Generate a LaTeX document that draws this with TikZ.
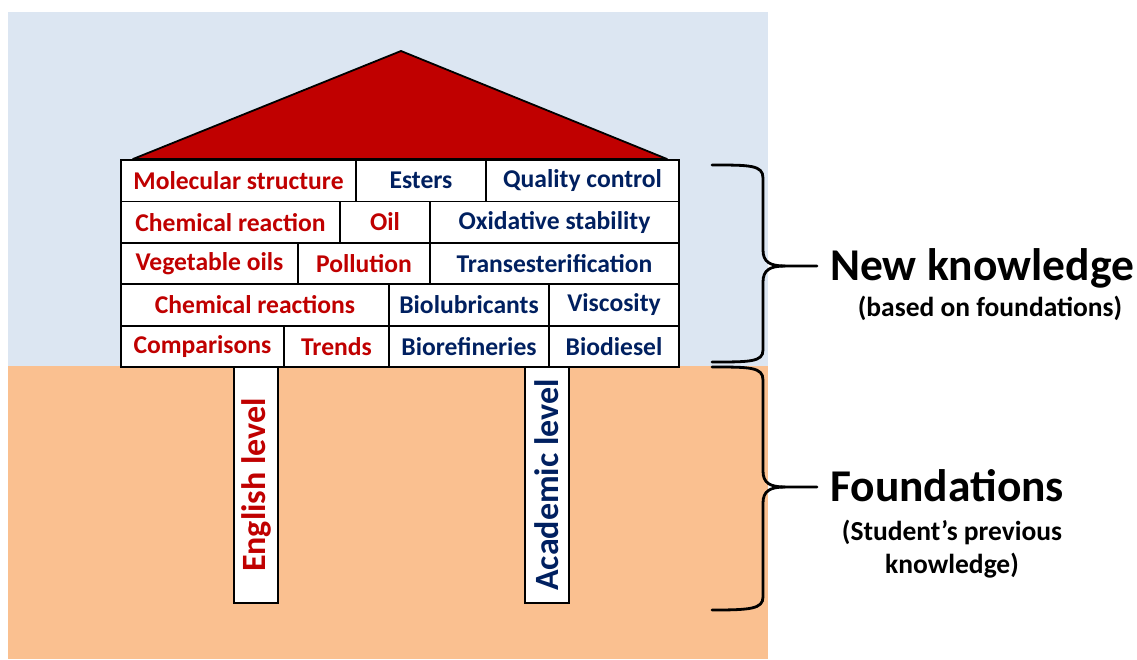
\documentclass[tikz,border=0pt]{standalone}
\usepackage{fontspec}
\setmainfont{Carlito}
\usetikzlibrary{positioning}
\definecolor{skyback}{HTML}{DCE6F2}
\definecolor{soilback}{HTML}{FAC090}
\definecolor{roofred}{HTML}{C00000}
\definecolor{navytext}{HTML}{002060}
\tikzset{
  brick/.style={draw, line width=1.8pt, fill=white, minimum height=41.4pt,
    inner sep=0pt, outer sep=0pt, font=\fontsize{25.6}{30}\selectfont\bfseries},
  oldtopic/.style={brick, text=roofred},
  newtopic/.style={brick, text=navytext},
  pillar/.style={draw, line width=1.8pt, fill=white, rotate=90, minimum width=236pt,
    minimum height=44pt, inner sep=0pt, outer sep=0pt, font=\fontsize{34}{40}\selectfont\bfseries},
  bigtag/.style={anchor=base west, inner sep=0pt, font=\fontsize{45.5}{50}\selectfont\bfseries},
  smalltag/.style={anchor=base, inner sep=0pt, align=center, font=\fontsize{27.5}{33}\selectfont\bfseries}
}

\begin{document}
\begin{tikzpicture}[x=1pt,y=-1pt]

    \useasboundingbox (0,0) rectangle (1137,659);

    % sky and ground
    \fill[skyback] (8,11.7) rectangle (768,366);
    \fill[soilback] (8,366) rectangle (768,659);

    % roof
    \coordinate (roofpeak) at (401,51);
    \draw[fill=roofred, line width=1.8pt, line join=round] (133,159) -- (roofpeak) -- (667,159) -- cycle;

    % pillars
    \node[pillar, text=roofred] (english) at (256,485) {English level};
    \node[pillar, text=navytext] (academic) at (547,485) {Academic level};

    % wall, row by row
    \node[oldtopic, minimum width=235pt, anchor=north west] (molec) at (121,160) {Molecular structure};
    \node[newtopic, minimum width=130pt, right=0pt of molec] (esters) {Esters};
    \node[newtopic, minimum width=193pt, right=0pt of esters] (quality) {Quality control};

    \node[oldtopic, minimum width=219pt, anchor=north west] (chemreac) at (molec.south west) {Chemical reaction};
    \node[oldtopic, minimum width=90pt, right=0pt of chemreac] (oil) {Oil};
    \node[newtopic, minimum width=249pt, right=0pt of oil] (oxid) {Oxidative stability};

    \node[oldtopic, minimum width=177pt, anchor=north west] (vegoils) at (chemreac.south west) {Vegetable oils};
    \node[oldtopic, minimum width=132pt, right=0pt of vegoils] (pollution) {Pollution};
    \node[newtopic, minimum width=249pt, right=0pt of pollution] (transest) {Transesterification};

    \node[oldtopic, minimum width=268pt, anchor=north west] (chemreacs) at (vegoils.south west) {Chemical reactions};
    \node[newtopic, minimum width=160pt, right=0pt of chemreacs] (biolub) {Biolubricants};
    \node[newtopic, minimum width=130pt, right=0pt of biolub] (viscosity) {Viscosity};

    \node[oldtopic, minimum width=163pt, anchor=north west] (compar) at (chemreacs.south west) {Comparisons};
    \node[oldtopic, minimum width=105pt, right=0pt of compar] (trends) {Trends};
    \node[newtopic, minimum width=160pt, right=0pt of trends] (biorefin) {Biorefineries};
    \node[newtopic, minimum width=130pt, right=0pt of biorefin] (biodiesel) {Biodiesel};

    % braces
    \draw[line width=2.8pt, line cap=round] (712,165) .. controls (750,165) and (763,165) .. (763,178) -- (763,250)
        .. controls (763,262) and (770,266) .. (785,266) -- (817,266);
    \draw[line width=2.8pt, line cap=round] (785,266) .. controls (770,266) and (763,270) .. (763,282) -- (763,350)
        .. controls (763,362) and (750,362) .. (712,362);
    \draw[line width=2.8pt, line cap=round] (712,367) .. controls (750,367) and (763,367) .. (763,380) -- (763,471)
        .. controls (763,483) and (770,487) .. (785,487) -- (817,487);
    \draw[line width=2.8pt, line cap=round] (785,487) .. controls (770,487) and (763,491) .. (763,503) -- (763,597)
        .. controls (763,609) and (750,610) .. (712,610);

    % labels
    \node[bigtag] (newknow) at (830,280) {New knowledge};
    \node[smalltag] (basedon) at (990,316.7) {(based on foundations)};
    \node[bigtag] (found) at (830,501.7) {Foundations};
    \node[smalltag] (previous) at (952,573) {(Student’s previous\\knowledge)};

\end{tikzpicture}
\end{document}
